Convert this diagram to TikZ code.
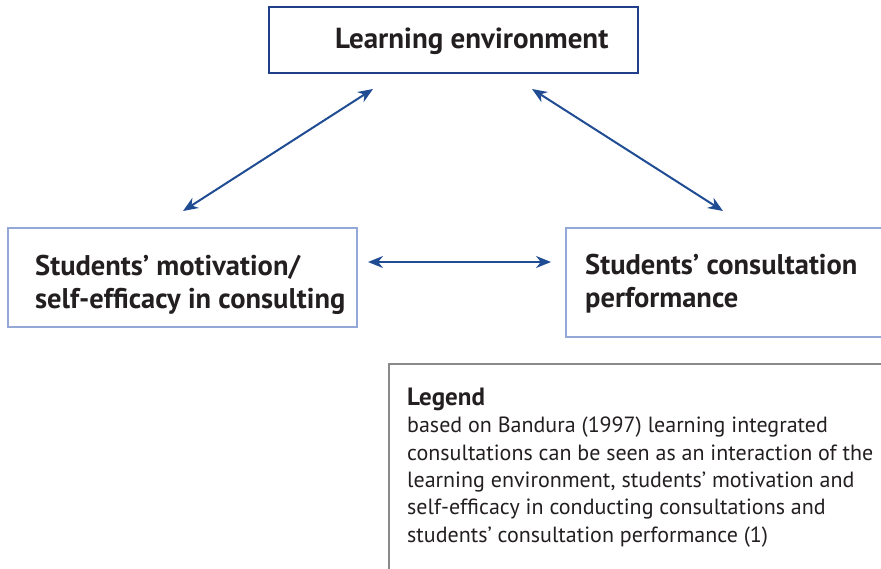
\documentclass[tikz,border=0pt]{standalone}
\usepackage{fontspec}
\setmainfont{PT Sans}
\usetikzlibrary{arrows.meta}
\definecolor{darkblue}{HTML}{1F3F8A}
\definecolor{arrowblue}{HTML}{1F4C93}
\definecolor{lightblue}{HTML}{94A8D8}
\definecolor{legendgray}{HTML}{8A8A8A}
\definecolor{textgray}{HTML}{231F20}
\tikzset{
  topbox/.style={draw=darkblue, line width=2pt},
  sidebox/.style={draw=lightblue, line width=1.5pt},
  legbox/.style={draw=legendgray, line width=2pt},
  headtxt/.style={anchor=base west, inner sep=0pt, text=textgray, font=\fontsize{28.5}{33}\selectfont\bfseries, align=left},
  bodytxt/.style={anchor=base west, inner sep=0pt, text=textgray, font=\fontsize{22}{27.3}\selectfont, align=left},
  link/.style={draw=arrowblue, line width=2pt, {Stealth[length=15pt,width=12pt]}-{Stealth[length=15pt,width=12pt]}}
}
\begin{document}
\begin{tikzpicture}[x=1pt,y=-1pt]
\useasboundingbox (0,0) rectangle (881,568);
\draw[topbox] (269,7) rectangle (638,73);
\draw[sidebox] (8,228) rectangle (357,327);
\draw[sidebox] (566,228) rectangle (895,337);
\draw[legbox] (389,364) rectangle (895,580);
\node[headtxt, font=\fontsize{29}{33}\selectfont\bfseries] (le) at (335,48) {Learning environment};
\node[headtxt] (sm) at (35,308) {Students’ motivation/\\self-efficacy in consulting};
\node[headtxt] (sc) at (585,307) {Students’ consultation\\performance};
\node[headtxt, font=\fontsize{25}{27}\selectfont\bfseries] (lg) at (407,405) {Legend};
\node[bodytxt] (lt) at (407,542) {based on Bandura (1997) learning integrated\\consultations can be seen as an interaction of the\\learning environment, students’ motivation and\\self-efficacy in conducting consultations and\\students’ consultation performance (1)};
\coordinate (a1s) at (183,211);
\coordinate (a1e) at (373,89);
\coordinate (a2s) at (532,89);
\coordinate (a2e) at (723,211);
\coordinate (a3s) at (368,262);
\coordinate (a3e) at (551,262);
\draw[link] (a1s) -- (a1e);
\draw[link] (a2s) -- (a2e);
\draw[link] (a3s) -- (a3e);
\end{tikzpicture}
\end{document}
